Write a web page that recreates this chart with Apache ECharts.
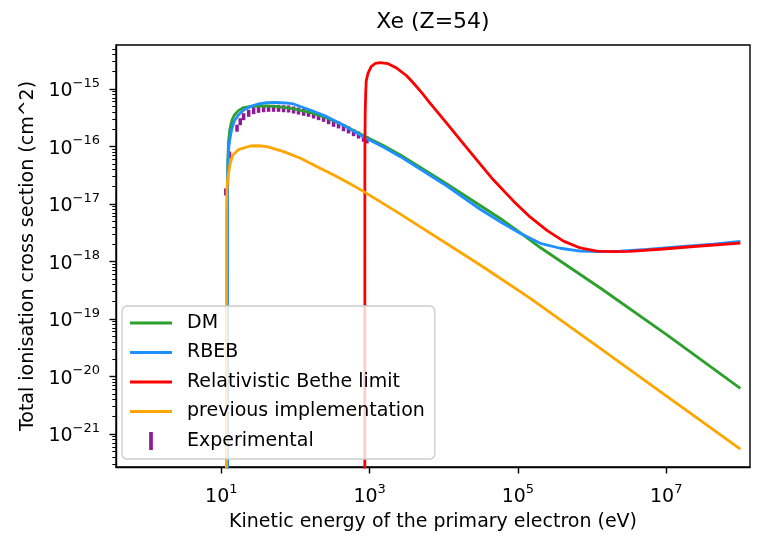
<!DOCTYPE html>
<html>
<head>
<meta charset="utf-8">
<script src="https://cdn.jsdelivr.net/npm/echarts@6/dist/echarts.min.js"></script>
<style>html,body{margin:0;padding:0;background:#fff}#c{width:769px;height:537px}</style>
</head>
<body>
<div id="c"></div>
<script>
// ---- data (energy in eV, cross section in cm^2) ----
const dmE = [12.13, 12.17, 12.25, 12.5, 13.0, 13.5, 14.1, 15, 17, 20, 25, 31.5, 41, 53, 73, 94, 158, 265, 440, 820, 1530, 2600, 1e4, 3.1e4, 5.78e4, 1.07e5, 2e5, 3.72e5, 6.92e5, 1.29e6, 1e7, 1e8];
const dmS = [1e-23, 1.75e-17, 5.8e-17, 1.2e-16, 1.94e-16, 2.46e-16, 3.0e-16, 3.53e-16, 4.2e-16, 4.75e-16, 4.97e-16, 5.06e-16, 5.06e-16, 4.97e-16, 4.75e-16, 4.49e-16, 3.90e-16, 3.13e-16, 2.37e-16, 1.55e-16, 1.04e-16, 7.1e-17, 2.42e-17, 9.4e-18, 5.6e-18, 3.19e-18, 1.75e-18, 1.02e-18, 5.94e-19, 3.46e-19, 5.4e-20, 6.2e-21];

const rbebE = [12.13, 12.17, 12.25, 12.5, 13.0, 13.5, 14.1, 15, 17, 20, 25, 31.5, 41, 53, 73, 94, 158, 265, 440, 820, 1530, 2600, 1e4, 3.1e4, 5.78e4, 1.07e5, 2e5, 3.72e5, 6.92e5, 1.29e6, 2.4e6, 5.5e6, 1.55e7, 4.3e7, 1e8];
const rbebS = [1e-23, 1.17e-17, 3.9e-17, 8.7e-17, 1.30e-16, 1.72e-16, 2.18e-16, 2.77e-16, 3.53e-16, 4.31e-16, 4.97e-16, 5.49e-16, 5.78e-16, 5.87e-16, 5.71e-16, 5.49e-16, 4.31e-16, 3.30e-16, 2.37e-16, 1.48e-16, 9.8e-17, 6.65e-17, 2.23e-17, 8.1e-18, 4.92e-18, 3.09e-18, 2.07e-18, 1.70e-18, 1.52e-18, 1.48e-18, 1.52e-18, 1.63e-18, 1.81e-18, 2.0e-18, 2.23e-18];

const betheE = [862, 863, 866, 872, 885, 900, 950, 1050, 1200, 1390, 1778, 2340, 3162, 3920, 5012, 6570, 1.1e4, 1.67e4, 2.818e4, 4.69e4, 8.73e4, 1.47e5, 2.46e5, 4.12e5, 6.92e5, 1.16e6, 1.95e6, 3.27e6, 9.1e6, 2.59e7, 1e8];
const betheS = [1e-23, 3.6e-17, 1.4e-16, 3.6e-16, 8.3e-16, 1.37e-15, 1.87e-15, 2.44e-15, 2.8e-15, 2.87e-15, 2.75e-15, 2.29e-15, 1.70e-15, 1.26e-15, 8.71e-16, 5.64e-16, 2.53e-16, 1.30e-16, 5.75e-17, 2.61e-17, 1.12e-17, 5.89e-18, 3.47e-18, 2.26e-18, 1.72e-18, 1.52e-18, 1.48e-18, 1.50e-18, 1.65e-18, 1.84e-18, 2.08e-18];

const prevE = [11.7, 11.75, 11.9, 12.2, 12.6, 13.2, 14.3, 17.3, 24.6, 31.6, 41.4, 69.5, 117, 196, 328, 553, 835, 2600, 3.1e4, 1.47e5, 1.29e6, 1e7, 1e8];
const prevS = [1e-23, 6.5e-18, 1.75e-17, 2.61e-17, 3.6e-17, 5.16e-17, 7.1e-17, 8.93e-17, 1.02e-16, 1.03e-16, 9.93e-17, 8.13e-17, 6.24e-17, 4.46e-17, 3.19e-17, 2.23e-17, 1.64e-17, 6.65e-18, 8.7e-19, 2.29e-19, 3.09e-20, 4.6e-21, 5.48e-22];

const expE = [11.5, 12.9, 16.3, 18.0, 20.0, 23.4, 27.3, 31.8, 37.2, 43.4, 50.7, 59.2, 69.2, 80.8, 94.4, 110, 129, 150, 176, 205, 240, 280, 327, 381, 445, 520, 608, 710, 829, 921];
const expS = [1.62e-17, 7.1e-17, 2.08e-16, 2.70e-16, 3.30e-16, 3.78e-16, 4.2e-16, 4.43e-16, 4.54e-16, 4.61e-16, 4.61e-16, 4.61e-16, 4.54e-16, 4.49e-16, 4.31e-16, 4.14e-16, 3.93e-16, 3.78e-16, 3.53e-16, 3.30e-16, 3.09e-16, 2.81e-16, 2.53e-16, 2.37e-16, 2.12e-16, 1.94e-16, 1.74e-16, 1.58e-16, 1.39e-16, 1.30e-16];

const seriesNames = ['DM', 'RBEB', 'Relativistic Bethe limit', 'previous implementation', 'Experimental'];
const xTickExps = [1, 3, 5, 7];
const yTickExps = [-21, -20, -19, -18, -17, -16, -15];
const yMinorMult = [2, 3, 4, 5, 6, 7, 8, 9];
const titleText = 'Xe (Z=54)';
const xName = 'Kinetic energy of the primary electron (eV)';
const yName = 'Total ionisation cross section (cm^2)';

// ---- build ----
const L = Math.log10;
const xMin = -0.42, xMax = 8.13, yMin = -21.574, yMax = -14.235;
const pts = (E, S) => E.map((e, i) => [L(e), L(S[i])]);
const FONT = 'DejaVu Sans';
const sup = n => '{b|10}{s|' + String(n).replace('-', '\u2212') + '}';
const rich = {
  b: {fontFamily: FONT, fontSize: 19, lineHeight: 24, verticalAlign: 'bottom', color: '#000'},
  s: {fontFamily: FONT, fontSize: 13, lineHeight: 13, verticalAlign: 'top', color: '#000'}
};
const yMinor = [];
for (let n = -22; n <= -15; n++) {
  yMinorMult.forEach(k => { const v = L(k) + n; if (v > yMin && v < yMax) yMinor.push(v); });
}

const colors = ['#2ca02c', '#1e90ff', '#ff0000', '#ffa500', '#8e1a9a'];
const lineSets = [[dmE, dmS], [rbebE, rbebS], [betheE, betheS], [prevE, prevS]];
const series = lineSets.map((d, i) => ({
  name: seriesNames[i], type: 'line', data: pts(d[0], d[1]),
  symbol: 'none', showSymbol: false, clip: true, smooth: false,
  lineStyle: {width: 2.8, color: colors[i]}, itemStyle: {color: colors[i]}
}));
series.push({
  name: seriesNames[4], type: 'scatter', data: pts(expE, expS),
  symbol: 'rect', symbolSize: [3.5, 7], clip: true,
  itemStyle: {color: colors[4], opacity: 1}
});

const axisLineOn = {show: true, onZero: false, lineStyle: {color: '#000', width: 1.4}};
const chart = echarts.init(document.getElementById('c'), null, {renderer: 'canvas'});
chart.setOption({
  animation: false,
  backgroundColor: '#fff',
  title: {text: titleText, left: 433, top: 11, textAlign: 'center', padding: 0,
    textStyle: {fontFamily: FONT, fontSize: 22, fontWeight: 'normal', color: '#000'}},
  grid: {left: 116, right: 19, top: 45, bottom: 69, show: true, borderColor: '#000', borderWidth: 1.4},
  xAxis: {
    type: 'value', min: xMin, max: xMax, position: 'bottom',
    axisLine: axisLineOn, splitLine: {show: false},
    axisTick: {show: true, inside: false, customValues: xTickExps, length: 6.5, lineStyle: {color: '#000', width: 1.4}},
    axisLabel: {customValues: xTickExps, formatter: v => sup(Math.round(v)), rich: rich, margin: 16},
    name: xName, nameLocation: 'middle', nameGap: 46,
    nameTextStyle: {fontFamily: FONT, fontSize: 19, color: '#000'}
  },
  yAxis: [{
    type: 'value', min: yMin, max: yMax, position: 'left',
    axisLine: axisLineOn, splitLine: {show: false},
    axisTick: {show: true, inside: false, customValues: yTickExps, length: 6.5, lineStyle: {color: '#000', width: 1.4}},
    axisLabel: {customValues: yTickExps, formatter: v => sup(Math.round(v)), rich: rich, margin: 16},
    name: yName, nameLocation: 'middle', nameGap: 78,
    nameTextStyle: {fontFamily: FONT, fontSize: 19, color: '#000'}
  }, {
    type: 'value', min: yMin, max: yMax, position: 'left', offset: 0,
    axisLine: {show: false, onZero: false}, splitLine: {show: false}, axisLabel: {show: false},
    axisTick: {show: true, inside: false, customValues: yMinor, length: 3.7, lineStyle: {color: '#000', width: 1}}
  }],
  legend: {
    orient: 'vertical', left: 122, top: 306,
    itemWidth: 42, itemHeight: 18, itemGap: 7.5,
    padding: [6, 10, 7, 8],
    backgroundColor: 'rgba(255,255,255,0.8)', borderColor: '#cccccc', borderWidth: 1.3, borderRadius: 5,
    textStyle: {fontFamily: FONT, fontSize: 19, lineHeight: 22, color: '#000', padding: [0, 0, 0, 10]},
    data: seriesNames.map((n, i) => ({
      name: n,
      icon: i === 4 ? 'path://M0,0h3.5v17h-3.5z' : 'path://M0,0h42v2.8h-42z'
    }))
  },
  series: series
});
</script>
</body>
</html>
